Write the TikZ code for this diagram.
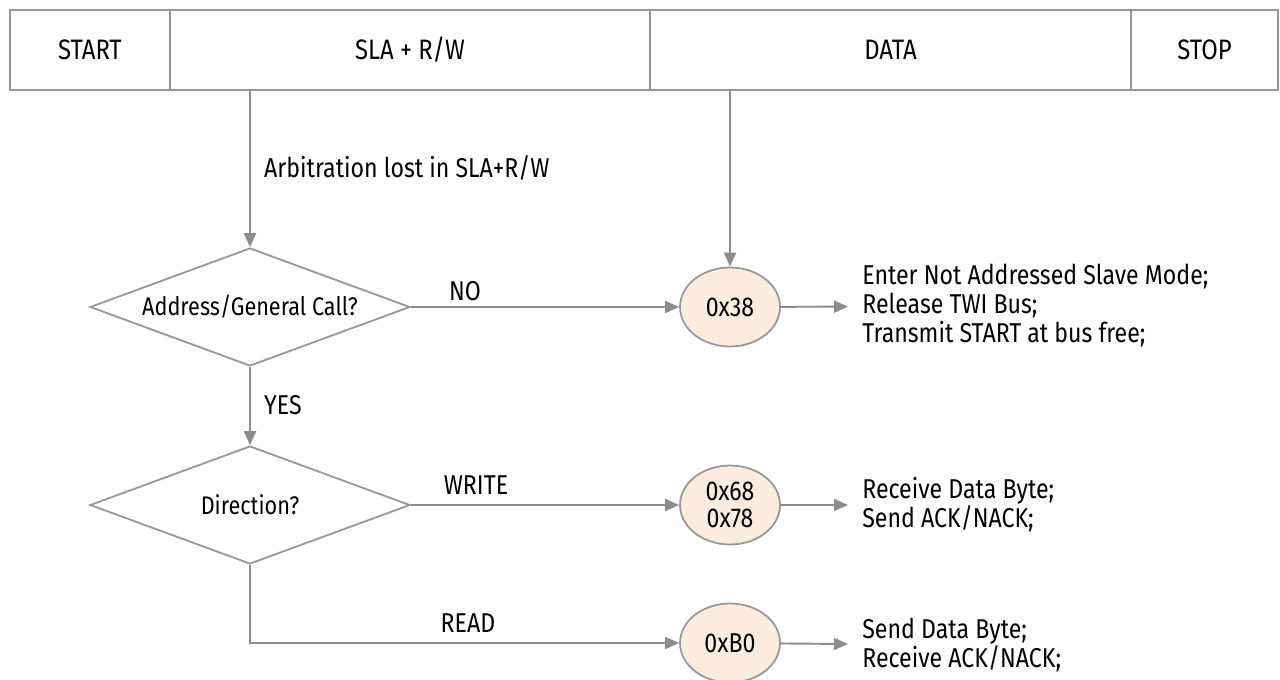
\documentclass[tikz,border=0pt]{standalone}
\usepackage{fontspec}
\setmainfont{Fira Sans}[FakeStretch=0.85]
\usetikzlibrary{shapes.geometric,arrows.meta}

\definecolor{linegray}{RGB}{140,140,140}
\definecolor{boxgray}{RGB}{150,150,150}
\definecolor{peach}{RGB}{252,236,222}

\begin{document}
\begin{tikzpicture}[
  x=0.02cm, y=-0.02cm,
  field/.style={draw=boxgray, line width=1pt, minimum height=1.6cm, inner sep=0pt, font=\fontsize{16}{19}\selectfont},
  decide/.style={diamond, aspect=2.7, draw=boxgray, line width=1pt, minimum width=6.4cm, minimum height=2.36cm, inner sep=0pt, font=\fontsize{14.5}{16}\selectfont},
  state/.style={ellipse, draw=boxgray, line width=1pt, fill=peach, minimum width=2cm, minimum height=1.58cm, inner sep=0pt, align=center, font=\fontsize{15.5}{15.5}\selectfont},
  act/.style={anchor=west, align=left, inner xsep=0.28cm, inner ysep=0pt, font=\fontsize{15.5}{16.5}\selectfont},
  lab/.style={font=\fontsize{15.5}{18}\selectfont},
  flow/.style={draw=linegray, line width=1.1pt, -{Triangle[length=0.28cm,width=0.24cm]}}
]
\useasboundingbox (0,0) rectangle (1280,679);

% ===================== Frame fields =====================
\node[field, minimum width=3.2cm]  (fStart) at (90,50)    {START};
\node[field, minimum width=9.6cm]  (fSla)   at (410,50)   {SLA + R/W};
\node[field, minimum width=9.62cm] (fData)  at (890.5,50) {DATA};
\node[field, minimum width=2.94cm] (fStop)  at (1204.5,50){STOP};

% taps on the bottom of the frame
\coordinate (tapSla)  at (250,90);
\coordinate (tapData) at (730,90);

% ===================== Decisions =====================
\node[decide] (addr) at (250,307) {Address/General Call?};
\node[decide] (dir)  at (250,505) {Direction?};

% ===================== States =====================
\node[state] (s38) at (730,307) {0x38};
\node[state] (s68) at (730,505) {0x68\\0x78};
\node[state] (sB0) at (730,643) {0xB0};

% ===================== Actions =====================
\node[act] (a38) at (848,306) {Enter Not Addressed Slave Mode;\\Release TWI Bus;\\Transmit START at bus free;};
\node[act] (a68) at (848,505) {Receive Data Byte;\\Send ACK/NACK;};
\node[act] (aB0) at (848,645) {Send Data Byte;\\Receive ACK/NACK;};

% ===================== Connectors =====================
\draw[flow] (tapSla) -- (addr);
\draw[flow] (tapData) -- (s38);
\draw[flow] (addr) -- (s38);
\draw[flow] (addr) -- (dir);
\draw[flow] (dir) -- (s68);
\draw[flow] (dir.south) |- (sB0);
\draw[flow] (s38) -- (a38);
\draw[flow] (s68) -- (a68);
\draw[flow] (sB0) -- (aB0);

% Labels
\node[lab, anchor=west] (lArb) at (258,168) {Arbitration lost in SLA+R/W};
\node[lab]              (lNo)  at (465,291) {NO};
\node[lab, anchor=west] (lYes) at (258,405) {YES};
\node[lab]              (lWr)  at (476,485) {WRITE};
\node[lab]              (lRd)  at (468,623) {READ};

\end{tikzpicture}
\end{document}
